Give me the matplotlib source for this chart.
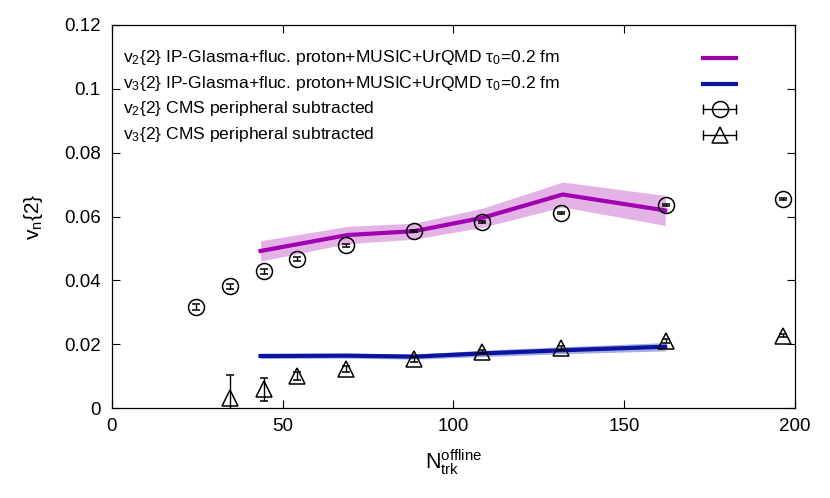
import matplotlib
matplotlib.use("Agg")
import matplotlib.pyplot as plt
from matplotlib.lines import Line2D

plt.rcParams["font.family"] = ["Liberation Sans", "DejaVu Sans"]
plt.rcParams["mathtext.fontset"] = "custom"
plt.rcParams["mathtext.rm"] = "Liberation Sans"
plt.rcParams["mathtext.it"] = "Liberation Sans:italic"

PURPLE = "#a000b0"
PURPLE_BAND = "#e3b3e6"
BLUE = "#0a14a0"
BLUE_BAND = "#a9aee0"

# CMS peripheral-subtracted data
nch_v2 = [24.6, 34.6, 44.5, 54.2, 68.5, 88.4, 108.3, 131.5, 162.2, 196.5]
v2_cms = [0.0316, 0.0382, 0.0428, 0.0467, 0.0510, 0.0554, 0.0582, 0.0612, 0.0635, 0.0654]
v2_err = [0.0010, 0.0008, 0.0007, 0.0006, 0.0005, 0.0004, 0.0003, 0.0003, 0.0003, 0.0003]

nch_v3 = [34.6, 44.5, 54.2, 68.5, 88.4, 108.3, 131.5, 162.2, 196.5]
v3_cms = [0.0031, 0.0059, 0.0100, 0.0123, 0.0153, 0.0177, 0.0189, 0.0211, 0.0227]
v3_err = [0.0073, 0.0036, 0.0012, 0.0010, 0.0008, 0.0006, 0.0006, 0.0006, 0.0006]

# IP-Glasma + MUSIC + UrQMD model
nch_model = [43.5, 69.0, 88.5, 108.5, 132.0, 162.0]
v2_model = [0.0492, 0.0542, 0.0554, 0.0596, 0.0669, 0.0619]
v2_model_err = [0.0032, 0.0027, 0.0025, 0.0030, 0.0039, 0.0047]
v3_model = [0.0163, 0.0164, 0.0161, 0.0171, 0.0181, 0.0192]
v3_model_err = [0.0008, 0.0008, 0.0008, 0.0010, 0.0011, 0.0013]

labels = [
    r"v$_2${2} IP-Glasma+fluc. proton+MUSIC+UrQMD τ$_0$=0.2 fm",
    r"v$_3${2} IP-Glasma+fluc. proton+MUSIC+UrQMD τ$_0$=0.2 fm",
    r"v$_2${2} CMS peripheral subtracted",
    r"v$_3${2} CMS peripheral subtracted",
]

fig = plt.figure(figsize=(8.3, 4.98), dpi=100)
ax = fig.add_axes([0.1349, 0.1807, 0.9578 - 0.1349, 0.9498 - 0.1807])

lo = [v - e for v, e in zip(v2_model, v2_model_err)]
hi = [v + e for v, e in zip(v2_model, v2_model_err)]
ax.fill_between(nch_model, lo, hi, color=PURPLE_BAND, lw=0, zorder=1)
lo = [v - e for v, e in zip(v3_model, v3_model_err)]
hi = [v + e for v, e in zip(v3_model, v3_model_err)]
ax.fill_between(nch_model, lo, hi, color=BLUE_BAND, lw=0, zorder=1)
ax.plot(nch_model, v2_model, color=PURPLE, lw=3, zorder=2)
ax.plot(nch_model, v3_model, color=BLUE, lw=3, zorder=2)

ax.errorbar(nch_v2, v2_cms, yerr=v2_err, fmt="o", ms=11.5, mfc="none", mec="k",
            mew=1.1, ecolor="k", elinewidth=1.0, capsize=3, capthick=1.0, zorder=3)
ax.errorbar(nch_v3, v3_cms, yerr=v3_err, fmt="^", ms=11, mfc="none", mec="k",
            mew=1.1, ecolor="k", elinewidth=1.0, capsize=3, capthick=1.0, zorder=3)

ax.set_xlim(0, 200)
ax.set_ylim(0, 0.12)
ax.set_xticks([0, 50, 100, 150, 200])
ax.set_yticks([0, 0.02, 0.04, 0.06, 0.08, 0.1, 0.12])
ax.set_yticklabels(["0", "0.02", "0.04", "0.06", "0.08", "0.1", "0.12"])
ax.tick_params(direction="in", top=True, right=True, length=6, width=0.8, labelsize=13.5)
ax.tick_params(axis="x", pad=7)
ax.tick_params(axis="y", pad=8)
for s in ax.spines.values():
    s.set_linewidth(0.9)

ax.set_xlabel(r"N$_{\mathrm{trk}}^{\mathrm{offline}}$", fontsize=15.5, labelpad=9)
ax.set_ylabel(r"v$_{\mathrm{n}}${2}", fontsize=15, labelpad=14)

# gnuplot-style key: text left, sample on the right
rows = [0.914, 0.847, 0.781, 0.714]
x_txt, x0, x1 = 0.016, 0.866, 0.914
xc = (x0 + x1) / 2
for y, lab in zip(rows, labels):
    ax.text(x_txt, y, lab, transform=ax.transAxes, ha="left", va="center", fontsize=12.6)
for y, c in zip(rows[:2], [PURPLE, BLUE]):
    ax.add_line(Line2D([x0, x1], [y, y], color=c, lw=3, transform=ax.transAxes))
for y, m, ms in zip(rows[2:], ["o", "^"], [11.5, 11]):
    ax.add_line(Line2D([x0, x1], [y, y], color="k", lw=1.0, marker="|", ms=7,
                       markevery=[0, 1], transform=ax.transAxes))
    ax.add_line(Line2D([xc], [y], color="k", marker=m, ms=ms, mfc="none", mew=1.1,
                       ls="none", transform=ax.transAxes))

fig.savefig("out.png", dpi=100)
